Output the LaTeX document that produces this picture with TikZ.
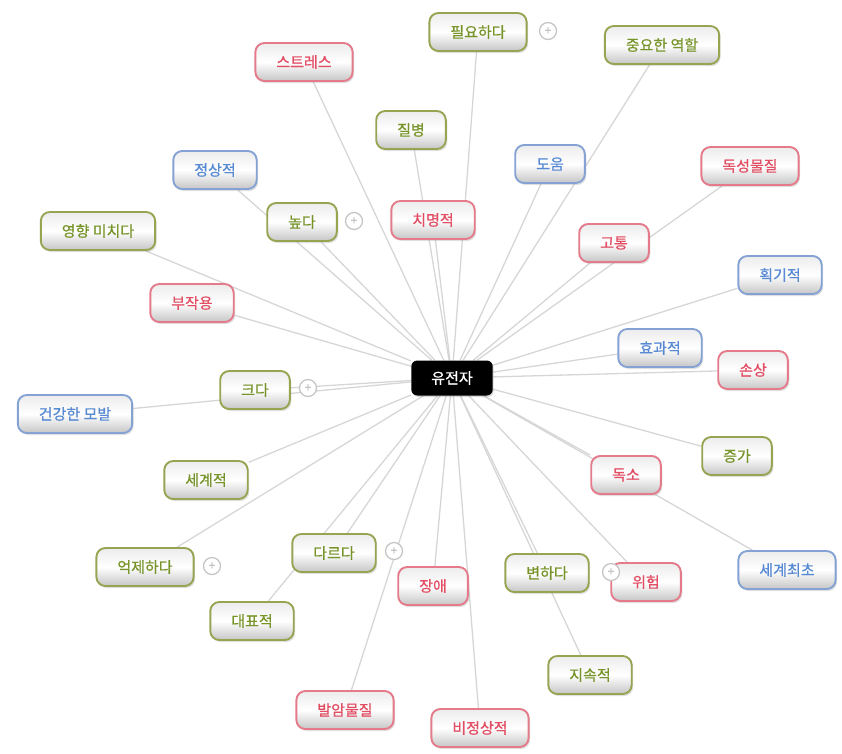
\documentclass[tikz,border=0pt]{standalone}
\usepackage{fontspec}
\setmainfont{Noto Sans CJK KR}[FakeBold=0.7]
\usepackage{tikz}
\usetikzlibrary{shadows, backgrounds}

\definecolor{redline}{RGB}{228,122,138}
\definecolor{redtext}{RGB}{226,78,100}
\definecolor{greenline}{RGB}{150,165,82}
\definecolor{greentext}{RGB}{118,148,40}
\definecolor{blueline}{RGB}{132,162,212}
\definecolor{bluetext}{RGB}{88,138,212}
\definecolor{linkgray}{RGB}{214,214,214}

\begin{document}
\begin{tikzpicture}[x=1pt, y=-1pt,
  box/.style={rounded corners=9pt, line width=1.9pt, minimum height=38pt, inner xsep=21pt,
    top color=gray!15, bottom color=gray!45, middle color=white,
    font=\fontsize{15}{17}\selectfont,
    drop shadow={opacity=0.25, shadow xshift=1.5pt, shadow yshift=-2pt}},
  redbox/.style={box, draw=redline, text=redtext},
  greenbox/.style={box, draw=greenline, text=greentext},
  bluebox/.style={box, draw=blueline, text=bluetext},
  genebox/.style={rounded corners=6pt, fill=black, text=white, minimum height=35pt, inner xsep=20pt,
    font=\fontsize{15}{17}\selectfont,
    drop shadow={opacity=0.3, shadow xshift=1pt, shadow yshift=-1.5pt}},
  plusmark/.style={circle, draw=gray!45, fill=white, line width=1.3pt, minimum size=17pt, inner sep=0pt,
    text=gray!55, font=\fontsize{12}{12}\selectfont},
  link/.style={draw=linkgray, line width=1.3pt}]
\useasboundingbox (0,0) rectangle (842,753);

\node[genebox] (gene) at (452,378) {유전자};

\node[greenbox] (need) at (478,32) {필요하다};
\node[greenbox] (role) at (662,45) {중요한 역할};
\node[redbox] (stress) at (304,62) {스트레스};
\node[greenbox] (disease) at (411,130) {질병};
\node[bluebox] (help) at (550,164) {도움};
\node[redbox] (toxic) at (750,166) {독성물질};
\node[bluebox] (normal) at (215,170) {정상적};
\node[greenbox] (high) at (302,222) {높다};
\node[redbox] (fatal) at (433,220) {치명적};
\node[greenbox] (affect) at (98,231) {영향 미치다};
\node[redbox] (pain) at (614,243) {고통};
\node[bluebox] (epoch) at (780,275) {획기적};
\node[redbox] (side) at (192,303) {부작용};
\node[bluebox] (effect) at (660,348) {효과적};
\node[redbox] (damage) at (753,370) {손상};
\node[greenbox] (big) at (255,390) {크다};
\node[bluebox] (hair) at (75,414) {건강한 모발};
\node[greenbox] (rise) at (737,456) {증가};
\node[redbox] (toxin) at (626,475) {독소};
\node[greenbox] (world) at (206,480) {세계적};
\node[greenbox] (differ) at (334,553) {다르다};
\node[greenbox] (curb) at (145,567) {억제하다};
\node[bluebox] (first) at (787,570) {세계최초};
\node[greenbox] (change) at (547,573) {변하다};
\node[redbox] (risk) at (646,582) {위험};
\node[redbox] (disorder) at (433,586) {장애};
\node[greenbox] (typical) at (252,621) {대표적};
\node[greenbox] (lasting) at (590,675) {지속적};
\node[redbox] (carcin) at (345,710) {발암물질};
\node[redbox] (abnormal) at (480,728) {비정상적};

\node[plusmark] (pneed) at (548,31) {+};
\node[plusmark] (phigh) at (354,221) {+};
\node[plusmark] (pbig) at (308,388) {+};
\node[plusmark] (pcurb) at (212,566) {+};
\node[plusmark] (pdiffer) at (394,551) {+};
\node[plusmark] (pchange) at (611,572) {+};

\begin{pgfonlayer}{background}
\foreach \n in {need, role, stress, disease, help, toxic, normal, high, fatal, affect,
  pain, epoch, side, effect, damage, big, hair, rise, toxin, world, differ, curb,
  first, change, risk, disorder, typical, lasting, carcin, abnormal}
  \draw[link] (gene) -- (\n);
\end{pgfonlayer}
\end{tikzpicture}
\end{document}
